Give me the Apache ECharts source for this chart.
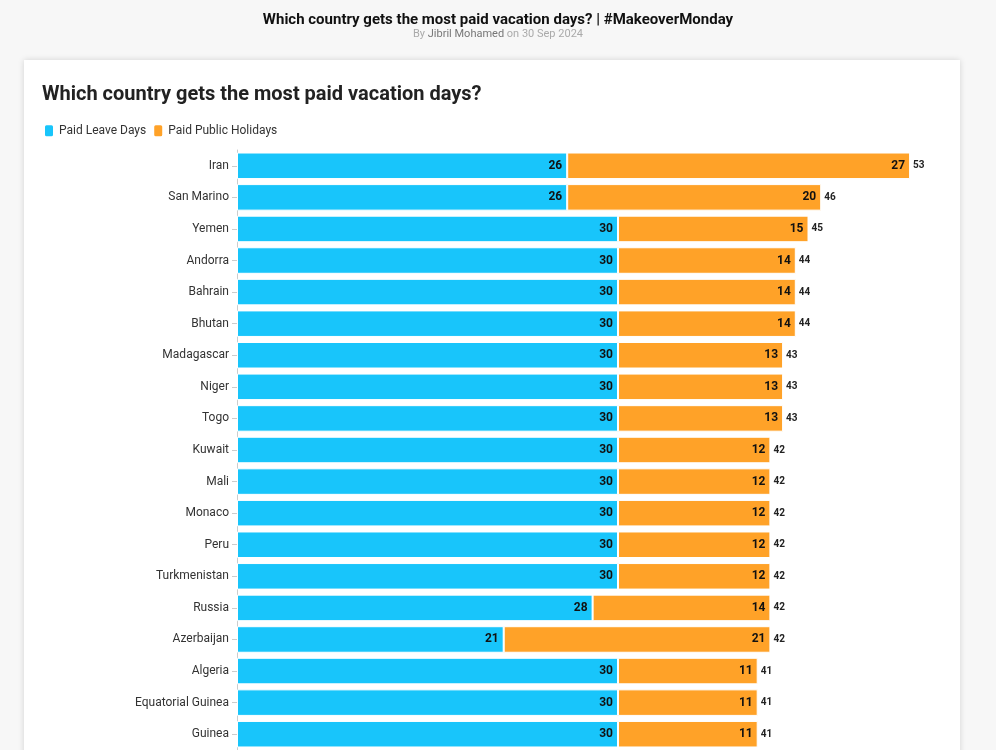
<!DOCTYPE html>
<html>
<head>
  <script src="https://cdn.jsdelivr.net/npm/echarts@6/dist/echarts.min.js"></script>
  <style>
    body { margin: 0; background-color: #f7f7f7 }
  </style>
  <script type="text/javascript">
    const countries = ["Iran", "San Marino", "Yemen", "Andorra", "Bahrain", "Bhutan", "Madagascar", "Niger", "Togo",
      "Kuwait", "Mali", "Monaco", "Peru", "Turkmenistan", "Russia", "Azerbaijan", "Algeria", "Equatorial Guinea", "Guinea"];
    const leaveDays = [26, 26, 30, 30, 30, 30, 30, 30, 30, 30, 30, 30, 30, 30, 28, 21, 30, 30, 30];
    const holidays = [27, 20, 15, 14, 14, 14, 13, 13, 13, 12, 12, 12, 12, 12, 14, 21, 11, 11, 11];
    const totals = [53, 46, 45, 44, 44, 44, 43, 43, 43, 42, 42, 42, 42, 42, 42, 42, 41, 41, 41];

    function init() {
      const font = "Roboto";
      const chart = echarts.init(document.getElementById('main'));
      const inLabel = { show: true, position: 'insideRight', color: '#111', fontWeight: 'bold', fontSize: 12, fontFamily: font };
      chart.setOption({
        animation: false,
        textStyle: { fontFamily: font },
        graphic: [
          { type: 'rect', shape: { x: 24, y: 60, width: 936, height: 720 }, z: -10,
            style: { fill: '#fff', shadowBlur: 6, shadowColor: 'rgba(0,0,0,0.15)' } },
          { type: 'text', left: 'center', top: 8,
            style: { text: 'Which country gets the most paid vacation days? | #MakeoverMonday', font: 'bold 15px Roboto', fill: '#111' } },
          { type: 'text', left: 'center', top: 25,
            style: { text: '{a|By }{b|Jibril Mohamed}{a| on 30 Sep 2024}',
              rich: { a: { fontSize: 11, fill: '#aaa', fontFamily: font }, b: { fontSize: 11, fill: '#777', fontFamily: font } } } },
          { type: 'text', left: 42, top: 79,
            style: { text: 'Which country gets the most paid vacation days?', font: 'bold 20px Roboto', fill: '#222' } }
        ],
        legend: {
          left: 38, top: 116, itemWidth: 10, itemHeight: 13, itemGap: 6,
          icon: 'roundRect',
          textStyle: { fontSize: 12, color: '#333', fontFamily: font }
        },
        grid: { left: 237, top: 150, width: 698.5, height: 600 },
        xAxis: { type: 'value', min: 0, max: 55, show: false },
        yAxis: {
          type: 'category', data: countries, inverse: true,
          axisLine: { lineStyle: { color: '#ccc' } },
          axisTick: { show: true, alignWithLabel: true, lineStyle: { color: '#ccc' } },
          axisLabel: { color: '#333', fontSize: 12, fontFamily: font }
        },
        series: [
          { name: 'Paid Leave Days', type: 'bar', stack: 'a', data: leaveDays, barCategoryGap: '16%',
            itemStyle: { color: '#18c5fb', borderColor: '#fff', borderWidth: 1 }, label: inLabel },
          { name: 'Paid Public Holidays', type: 'bar', stack: 'a', data: holidays,
            itemStyle: { color: '#ffa228', borderColor: '#fff', borderWidth: 1 }, label: inLabel },
          { name: 'Total', type: 'bar', stack: 'a', data: totals.map(() => 0),
            itemStyle: { color: 'transparent' },
            label: { show: true, position: 'right', distance: 3, color: '#222', fontSize: 10, fontWeight: 'bold',
              formatter: p => totals[p.dataIndex] }
          }
        ]
      });
      chart.setOption({ legend: { data: ['Paid Leave Days', 'Paid Public Holidays'] } });
    }
  </script>
</head>
<body onload="init()">
  <div id="main" style="width: 996px; height: 750px;"></div>
</body>
</html>
